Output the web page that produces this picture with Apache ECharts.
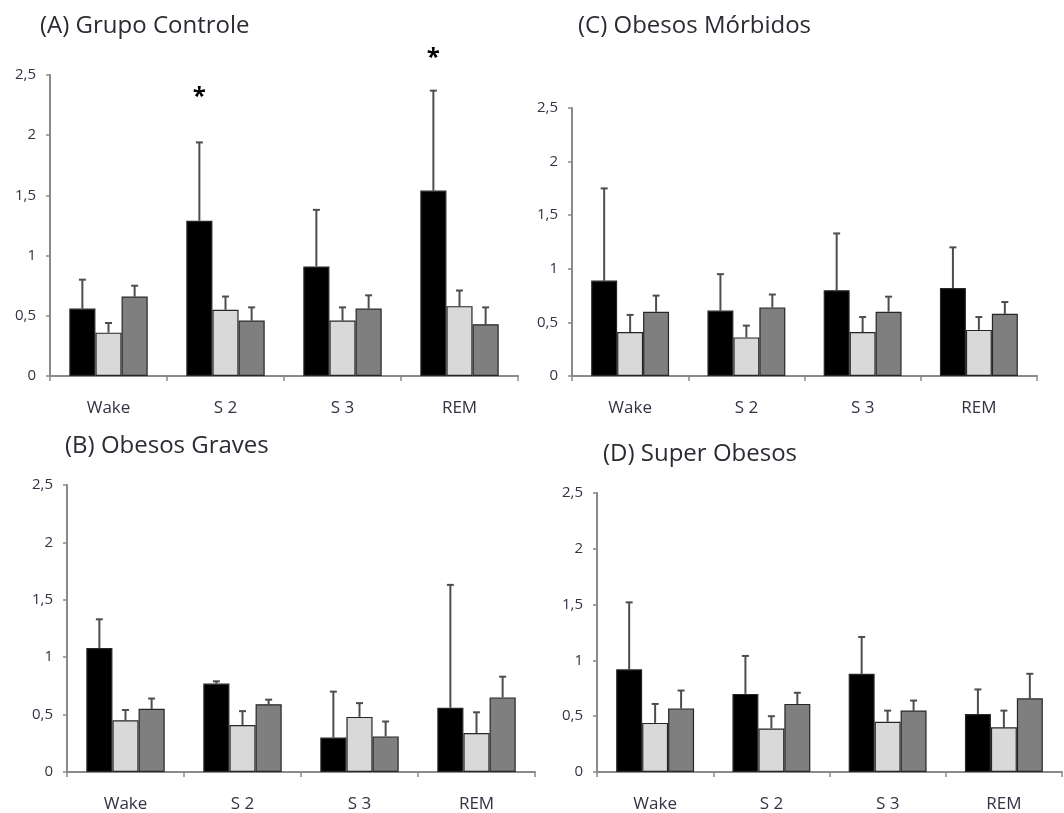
<!DOCTYPE html>
<html>
<head>
<meta charset="utf-8">
<script src="https://cdn.jsdelivr.net/npm/echarts@6/dist/echarts.min.js"></script>
<style>
html,body{margin:0;padding:0;background:#fff;}
#chart{width:1064px;height:813px;}
</style>
</head>
<body>
<div id="chart"></div>
<script>
const categories = ['Wake', 'S 2', 'S 3', 'REM'];
const yTickValues = [0, 0.5, 1, 1.5, 2, 2.5];
const panelTitles = ['(A) Grupo Controle', '(C) Obesos Mórbidos', '(B) Obesos Graves', '(D) Super Obesos'];

// (A) Grupo Controle
const aBlack = [0.56, 1.29, 0.91, 1.54];
const aBlackErr = [0.80, 1.94, 1.38, 2.37];
const aLight = [0.36, 0.55, 0.46, 0.58];
const aLightErr = [0.44, 0.66, 0.57, 0.71];
const aDark = [0.66, 0.46, 0.56, 0.43];
const aDarkErr = [0.75, 0.57, 0.67, 0.57];
const aSigY = [null, 2.32, null, 2.64];

// (C) Obesos Mórbidos
const cBlack = [0.89, 0.61, 0.80, 0.82];
const cBlackErr = [1.75, 0.95, 1.33, 1.20];
const cLight = [0.41, 0.36, 0.41, 0.43];
const cLightErr = [0.57, 0.47, 0.55, 0.55];
const cDark = [0.60, 0.64, 0.60, 0.58];
const cDarkErr = [0.75, 0.76, 0.74, 0.69];

// (B) Obesos Graves
const bBlack = [1.08, 0.77, 0.30, 0.56];
const bBlackErr = [1.33, 0.79, 0.70, 1.63];
const bLight = [0.45, 0.41, 0.48, 0.34];
const bLightErr = [0.54, 0.53, 0.60, 0.52];
const bDark = [0.55, 0.59, 0.31, 0.65];
const bDarkErr = [0.64, 0.63, 0.44, 0.83];

// (D) Super Obesos
const dBlack = [0.92, 0.70, 0.88, 0.52];
const dBlackErr = [1.52, 1.04, 1.21, 0.74];
const dLight = [0.44, 0.39, 0.45, 0.40];
const dLightErr = [0.61, 0.50, 0.55, 0.55];
const dDark = [0.57, 0.61, 0.55, 0.66];
const dDarkErr = [0.73, 0.71, 0.64, 0.88];

const panels = [
  {title: panelTitles[0], series: [[aBlack, aBlackErr], [aLight, aLightErr], [aDark, aDarkErr]], sig: aSigY,
   grid: {left: 50, top: 75, width: 468, height: 301}, titlePos: {left: 40, top: 14}},
  {title: panelTitles[1], series: [[cBlack, cBlackErr], [cLight, cLightErr], [cDark, cDarkErr]], sig: null,
   grid: {left: 572, top: 108, width: 465, height: 268}, titlePos: {left: 578, top: 14}},
  {title: panelTitles[2], series: [[bBlack, bBlackErr], [bLight, bLightErr], [bDark, bDarkErr]], sig: null,
   grid: {left: 67, top: 485, width: 468, height: 289}, titlePos: {left: 65, top: 434}},
  {title: panelTitles[3], series: [[dBlack, dBlackErr], [dLight, dLightErr], [dDark, dDarkErr]], sig: null,
   grid: {left: 597, top: 493, width: 465, height: 281}, titlePos: {left: 603, top: 442}}
];

const barColors = ['#000000', '#d9d9d9', '#7f7f7f'];
const CAT_GAP = 0.33;
const FONT = '"Open Sans", "Noto Sans", sans-serif';
const axisColor = '#8a8a8a';

const option = {
  animation: false,
  backgroundColor: '#ffffff',
  title: [],
  grid: [],
  xAxis: [],
  yAxis: [],
  series: []
};

panels.forEach(function (p, gi) {
  option.title.push({
    text: p.title, left: p.titlePos.left, top: p.titlePos.top, padding: 0,
    textStyle: {fontFamily: FONT, fontSize: 24, fontWeight: 'normal', color: '#2b2b33'}
  });
  option.grid.push(Object.assign({containLabel: false}, p.grid));
  option.xAxis.push({
    type: 'category', gridIndex: gi, data: categories,
    axisLine: {lineStyle: {color: axisColor, width: 2}},
    axisTick: {show: true, length: 5, lineStyle: {color: axisColor, width: 1.5}},
    axisLabel: {fontFamily: FONT, fontSize: 17, color: '#333344', margin: 24}
  });
  option.yAxis.push({
    type: 'value', gridIndex: gi, min: 0, max: 2.5, interval: 0.5,
    axisLine: {show: true, lineStyle: {color: axisColor, width: 2}},
    axisTick: {show: true, length: 4, lineStyle: {color: axisColor, width: 1.5}},
    splitLine: {show: false},
    axisLabel: {
      fontFamily: FONT, fontSize: 15, color: '#333344', margin: 14,
      formatter: function (v) { return String(v).replace('.', ','); }
    }
  });
  p.series.forEach(function (s, si) {
    option.series.push({
      type: 'bar', xAxisIndex: gi, yAxisIndex: gi, data: s[0],
      barGap: '0%', barCategoryGap: (CAT_GAP * 100) + '%',
      itemStyle: {color: barColors[si], borderColor: '#262626', borderWidth: 1.2}
    });
  });
  // error bars (upper whiskers only)
  p.series.forEach(function (s, si) {
    option.series.push({
      type: 'custom', xAxisIndex: gi, yAxisIndex: gi, clip: false, z: 1,
      data: categories.map(function (c, i) { return [i, s[0][i], s[1][i]]; }),
      renderItem: function (params, api) {
        const i = api.value(0);
        const base = api.coord([i, api.value(1)]);
        const top = api.coord([i, api.value(2)]);
        const band = api.size([1, 0])[0];
        const bw = band * (1 - CAT_GAP) / 3;
        const x = base[0] + (si - 1) * bw;
        return {
          type: 'group',
          children: [
            {type: 'line', shape: {x1: x, y1: base[1], x2: x, y2: top[1]},
             style: {stroke: '#4d4d4d', lineWidth: 2}},
            {type: 'line', shape: {x1: x - 3.5, y1: top[1], x2: x + 3.5, y2: top[1]},
             style: {stroke: '#4d4d4d', lineWidth: 2}}
          ]
        };
      }
    });
  });
  if (p.sig) {
    option.series.push({
      type: 'custom', xAxisIndex: gi, yAxisIndex: gi, clip: false,
      data: p.sig.map(function (v, i) { return [i, v]; }).filter(function (d) { return d[1] != null; }),
      renderItem: function (params, api) {
        const i = api.value(0);
        const pt = api.coord([i, api.value(1)]);
        const band = api.size([1, 0])[0];
        const bw = band * (1 - CAT_GAP) / 3;
        return {
          type: 'text',
          style: {text: '*', x: pt[0] - bw, y: pt[1], align: 'center', verticalAlign: 'middle',
                  fontSize: 24, fontWeight: 'bold', fontFamily: FONT, fill: '#000'}
        };
      }
    });
  }
});

const chart = echarts.init(document.getElementById('chart'), null, {renderer: 'canvas'});
chart.setOption(option);
</script>
</body>
</html>
